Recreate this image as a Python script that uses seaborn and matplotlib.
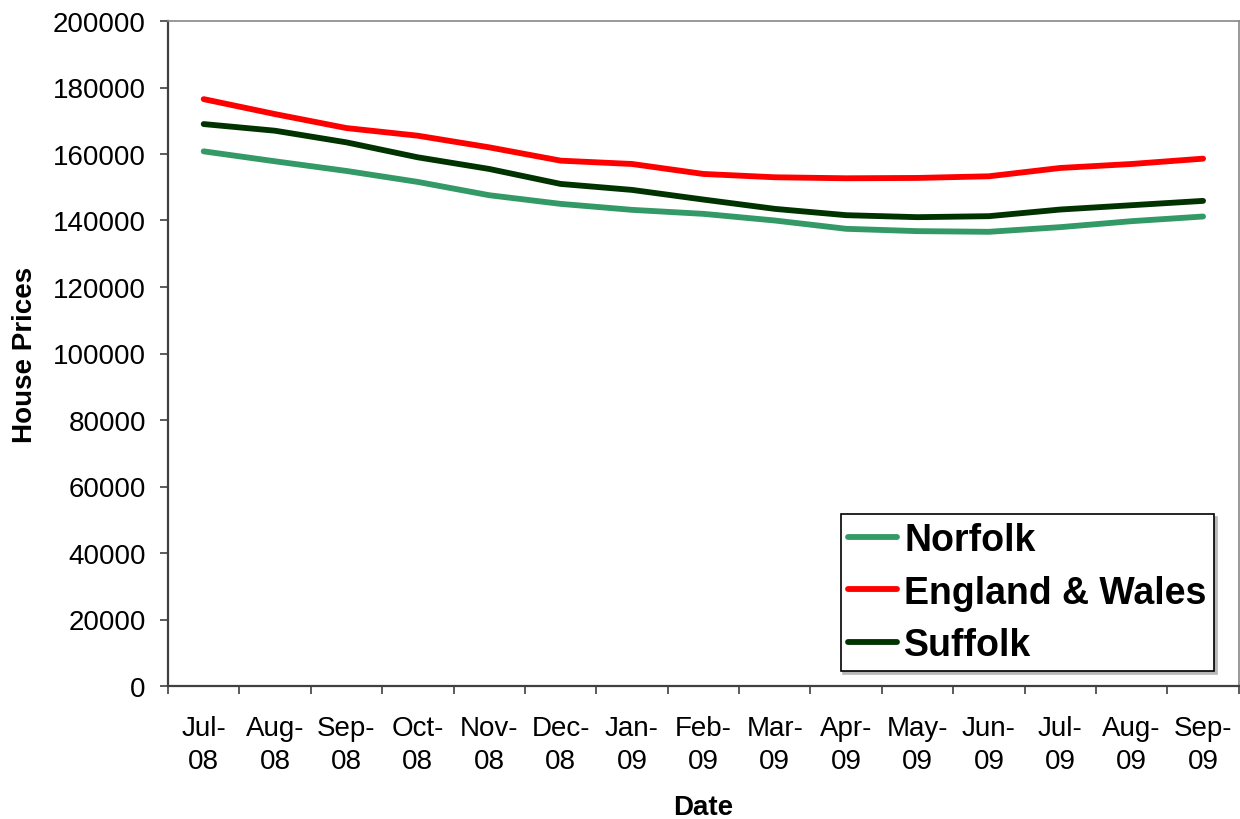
import numpy as np
import pandas as pd
import seaborn as sns
import matplotlib
matplotlib.use('Agg')
import matplotlib.pyplot as plt

# Dados (preço médio das casas)
dates = ['Jul-\n08', 'Aug-\n08', 'Sep-\n08', 'Oct-\n08', 'Nov-\n08', 'Dec-\n08', 'Jan-\n09',
         'Feb-\n09', 'Mar-\n09', 'Apr-\n09', 'May-\n09', 'Jun-\n09', 'Jul-\n09', 'Aug-\n09', 'Sep-\n09']
norfolk = [160800, 157800, 154900, 151600, 147600, 145000, 143200, 142000,
           140000, 137500, 136800, 136600, 138000, 139800, 141200]
england_wales = [176500, 172000, 167800, 165500, 162000, 158000, 157000, 154000,
                 153000, 152700, 152800, 153300, 155800, 157000, 158600]
suffolk = [169000, 167000, 163500, 159000, 155500, 151000, 149200, 146300,
           143500, 141600, 141000, 141300, 143300, 144600, 145900]

regions = ['Norfolk', 'England & Wales', 'Suffolk']
cores = {'Norfolk': '#339966', 'England & Wales': '#ff0000', 'Suffolk': '#003300'}

df = pd.DataFrame({
    'Date': dates * 3,
    'Price': norfolk + england_wales + suffolk,
    'Region': ['Norfolk'] * 15 + ['England & Wales'] * 15 + ['Suffolk'] * 15,
})

sns.set_style('white')
plt.rcParams['font.family'] = ['Liberation Sans', 'DejaVu Sans']
plt.rcParams['text.color'] = 'black'
plt.rcParams['axes.labelcolor'] = 'black'
plt.rcParams['xtick.color'] = 'black'
plt.rcParams['ytick.color'] = 'black'

fig = plt.figure(figsize=(12.4, 8.2), dpi=100)
ax = fig.add_axes([168 / 1240, 1 - 687 / 820, 1072 / 1240 - 0.001, 665 / 820])

sns.lineplot(data=df, x='Date', y='Price', hue='Region', hue_order=regions,
             palette=cores, sort=False, linewidth=4.2, ax=ax)
for line in ax.get_lines():
    line.set_solid_capstyle('round')

ax.set_xlim(-0.5, 14.5)
ax.set_ylim(0, 200000)
ax.set_yticks(np.arange(0, 200001, 20000))
ax.set_xticks(np.arange(-0.5, 15, 1), minor=True)
ax.tick_params(axis='x', which='major', length=0, pad=21, labelsize=20)
ax.tick_params(axis='x', which='minor', length=6, width=1.2, color='#404040', direction='out', bottom=True)
ax.tick_params(axis='y', length=6, width=1.2, color='#404040', direction='out', left=True, pad=10, labelsize=20)
for lbl in ax.get_xticklabels():
    lbl.set_linespacing(1.35)

for s in ['left', 'bottom']:
    ax.spines[s].set_color('#404040')
    ax.spines[s].set_linewidth(1.6)
for s in ['top', 'right']:
    ax.spines[s].set_color('#888888')
    ax.spines[s].set_linewidth(1.2)

ax.set_xlabel('Date', fontsize=20, fontweight='bold', labelpad=14)
ax.set_ylabel('House Prices', fontsize=20, fontweight='bold', labelpad=11)

leg = ax.legend(loc='lower right', bbox_to_anchor=(0.977, 0.0226),
                prop={'weight': 'bold', 'size': 27}, frameon=True, fancybox=False,
                edgecolor='black', framealpha=1, handlelength=1.3, handletextpad=0.2,
                labelspacing=0.45, borderpad=0.2, borderaxespad=0,
                shadow={'color': '#b8b8b8', 'alpha': 1})
leg.get_frame().set_linewidth(1.2)
for h in leg.get_lines():
    h.set_linewidth(4.2)

fig.savefig('out.png', dpi=100)
